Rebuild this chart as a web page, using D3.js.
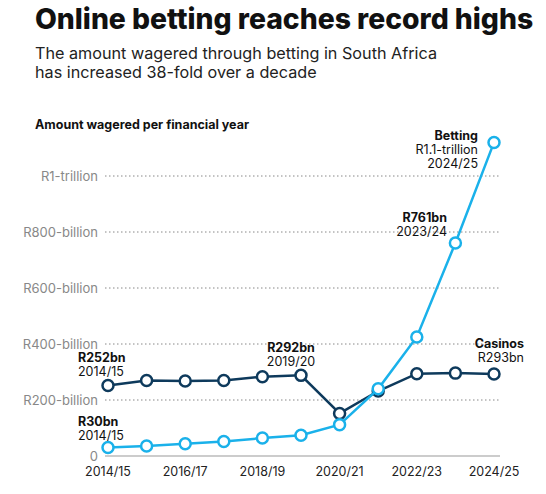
<!DOCTYPE html><html><head><meta charset="utf-8"><script src="https://d3js.org/d3.v7.min.js"></script>
<style>body{margin:0;background:#fff}text{font-family:Inter,"Noto Sans",sans-serif}</style></head><body><svg id="c" width="546" height="494"></svg>
<script>
const years=["2014/15","2015/16","2016/17","2017/18","2018/19","2019/20","2020/21","2021/22","2022/23","2023/24","2024/25"];
const betting=[30,36,44,52,64,74,112,240,425,761,1120];
const casinos=[252,270,268,270,283,288,152,232,294,296,293];
const yTicks=[0,200,400,600,800,1000];
const yLabels=["0","R200-billion","R400-billion","R600-billion","R800-billion","R1-trillion"];
const xTickLabels=["2014/15","2016/17","2018/19","2020/21","2022/23","2024/25"];
const svg=d3.select("#c");
const x=d3.scalePoint().domain(years).range([108,494]);
const y=d3.scaleLinear().domain([0,1000]).range([456,176]);
svg.append("text").attr("x",35).attr("y",29).attr("font-size",28.3).attr("font-weight",800).attr("fill","#111").text("Online betting reaches record highs");
svg.append("text").attr("x",35).attr("y",59).attr("font-size",16.2).attr("fill","#222").text("The amount wagered through betting in South Africa");
svg.append("text").attr("x",35).attr("y",78).attr("font-size",16.2).attr("fill","#222").text("has increased 38-fold over a decade");
svg.append("text").attr("x",35).attr("y",129).attr("font-size",12.5).attr("font-weight",700).attr("fill","#111").text("Amount wagered per financial year");
yTicks.forEach((t,i)=>{
 if(t>0)svg.append("line").attr("x1",105).attr("x2",500).attr("y1",y(t)).attr("y2",y(t)).attr("stroke","#888").attr("stroke-dasharray","1.5,2.5");
 svg.append("text").attr("x",98).attr("y",y(t)+4.5).attr("text-anchor","end").attr("font-size",13).attr("fill","#888").text(yLabels[i]);
});
svg.append("line").attr("x1",105).attr("x2",500).attr("y1",y(0)).attr("y2",y(0)).attr("stroke","#999");
xTickLabels.forEach(l=>svg.append("text").attr("x",x(l)).attr("y",476).attr("text-anchor","middle").attr("font-size",12.5).attr("fill","#222").text(l));
function series(vals,col){
 svg.append("path").datum(vals).attr("fill","none").attr("stroke",col).attr("stroke-width",2.5)
  .attr("d",d3.line().x((d,i)=>x(years[i])).y(d=>y(d)));
 svg.selectAll(null).data(vals).join("circle").attr("cx",(d,i)=>x(years[i])).attr("cy",d=>y(d)).attr("r",5.5)
  .attr("fill","#fff").attr("stroke",col).attr("stroke-width",2.5);
}
series(casinos,"#0e3a5c");
series(betting,"#1ab1ea");
function ann(xp,yp,anchor,lines){
 lines.forEach((l,i)=>svg.append("text").attr("x",xp).attr("y",yp+i*14).attr("text-anchor",anchor).attr("font-size",12.5)
  .attr("font-weight",i==0?700:400).attr("fill","#111").text(l));
}
ann(78,362,"start",["R252bn","2014/15"]);
ann(78,426,"start",["R30bn","2014/15"]);
ann(x("2019/20")-10,352,"middle",["R292bn","2019/20"]);
ann(478,140,"end",["Betting","R1.1-trillion","2024/25"]);
ann(447,222,"end",["R761bn","2023/24"]);
ann(524,348,"end",["Casinos","R293bn"]);
</script></body></html>
